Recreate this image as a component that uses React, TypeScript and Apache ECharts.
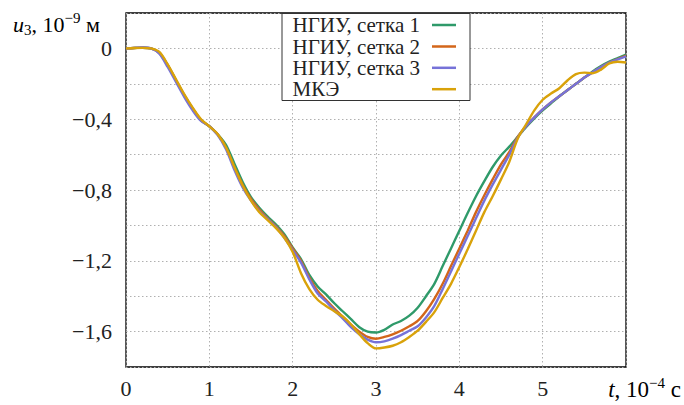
import React, { useEffect, useRef } from "react";
import * as echarts from "echarts";

const tValues = [
  0.0, 0.1, 0.2, 0.3, 0.4, 0.5, 0.6, 0.7, 0.8, 0.9,
  1.0, 1.1, 1.2, 1.3, 1.4, 1.5, 1.6, 1.7, 1.8, 1.9,
  2.0, 2.1, 2.2, 2.3, 2.4, 2.5, 2.6, 2.7, 2.8, 2.9,
  3.0, 3.1, 3.2, 3.3, 3.4, 3.5, 3.6, 3.7, 3.8, 3.9,
  4.0, 4.1, 4.2, 4.3, 4.4, 4.5, 4.6, 4.7, 4.8, 4.9,
  5.0, 5.1, 5.2, 5.3, 5.4, 5.5, 5.6, 5.7, 5.8, 5.9,
  6.0,
];

const grid1 = [
  0, 0.002, 0.004, 0.0, -0.025, -0.095, -0.18, -0.265, -0.34, -0.405,
  -0.44, -0.485, -0.545, -0.65, -0.755, -0.84, -0.9, -0.95, -0.995, -1.05,
  -1.125, -1.19, -1.28, -1.345, -1.39, -1.44, -1.485, -1.53, -1.575, -1.6,
  -1.605, -1.59, -1.56, -1.54, -1.51, -1.465, -1.4, -1.33, -1.23, -1.13,
  -1.03, -0.93, -0.835, -0.75, -0.67, -0.605, -0.555, -0.5, -0.445, -0.395,
  -0.35, -0.31, -0.27, -0.235, -0.2, -0.165, -0.13, -0.1, -0.075, -0.055,
  -0.035,
];

const grid2 = [
  0, 0.002, 0.004, 0.0, -0.025, -0.095, -0.18, -0.265, -0.34, -0.405,
  -0.44, -0.485, -0.56, -0.67, -0.77, -0.85, -0.91, -0.96, -1.005, -1.06,
  -1.13, -1.2, -1.295, -1.37, -1.42, -1.47, -1.515, -1.56, -1.6, -1.63,
  -1.64, -1.63, -1.615, -1.595, -1.57, -1.54, -1.485, -1.415, -1.33, -1.23,
  -1.13, -1.03, -0.925, -0.83, -0.74, -0.655, -0.585, -0.5, -0.44, -0.39,
  -0.345, -0.305, -0.27, -0.235, -0.2, -0.165, -0.135, -0.105, -0.08, -0.06,
  -0.04,
];

const grid3 = [
  0, 0.003, 0.005, 0.0, -0.03, -0.105, -0.19, -0.275, -0.35, -0.41,
  -0.44, -0.49, -0.57, -0.685, -0.785, -0.86, -0.92, -0.965, -1.01, -1.07,
  -1.14, -1.21, -1.305, -1.385, -1.43, -1.48, -1.525, -1.575, -1.615, -1.645,
  -1.66, -1.655, -1.64, -1.62, -1.595, -1.57, -1.52, -1.455, -1.36, -1.26,
  -1.16, -1.06, -0.96, -0.86, -0.77, -0.685, -0.6, -0.505, -0.44, -0.39,
  -0.345, -0.305, -0.27, -0.235, -0.2, -0.165, -0.135, -0.105, -0.08, -0.062,
  -0.045,
];

const fem = [
  0, 0.002, 0.003, 0.0, -0.02, -0.09, -0.175, -0.26, -0.335, -0.4,
  -0.44, -0.485, -0.56, -0.67, -0.775, -0.86, -0.925, -0.97, -1.015, -1.07,
  -1.15, -1.27, -1.36, -1.42, -1.455, -1.485, -1.515, -1.56, -1.615, -1.665,
  -1.695, -1.69, -1.68, -1.66, -1.63, -1.595, -1.545, -1.49, -1.41, -1.33,
  -1.235, -1.135, -1.03, -0.925, -0.835, -0.74, -0.64, -0.51, -0.43, -0.35,
  -0.29, -0.255, -0.225, -0.18, -0.145, -0.137, -0.14, -0.12, -0.085, -0.075,
  -0.08,
];

const seriesNames = ["НГИУ, сетка 1", "НГИУ, сетка 2", "НГИУ, сетка 3", "МКЭ"];
const seriesData = [grid1, grid2, grid3, fem];
const seriesColors = ["#2f9a6a", "#d3661a", "#7672d8", "#d9a20a"];

const xTicks = [0, 1, 2, 3, 4, 5, 6];
const yLabelTicks = [0, -0.4, -0.8, -1.2, -1.6];

const FONT = "Liberation Serif";

function fmtY(v: number): string {
  if (Math.abs(v) < 1e-9) return "0";
  const s = Math.abs(v).toFixed(1).replace(".", ",");
  return (v < 0 ? "\u2212" : "") + s;
}

export default function App() {
  const ref = useRef<HTMLDivElement>(null);

  useEffect(() => {
    document.body.style.margin = "0";
    if (!ref.current) return;
    const chart = echarts.init(ref.current, undefined, { renderer: "svg" });

    const rowYs = [25, 46.5, 67.8, 89.2];

    const legendElems: any[] = [
      {
        type: "rect",
        shape: { x: 282, y: 13.5, width: 188, height: 87 },
        style: { fill: "#fff", stroke: "#333", lineWidth: 1 },
        z: 100,
      },
    ];
    seriesNames.forEach((name, i) => {
      legendElems.push({
        type: "text",
        x: 292.5,
        y: rowYs[i],
        style: {
          text: name,
          fontFamily: FONT,
          fontSize: 21,
          lineHeight: 19,
          fill: "#222",
          verticalAlign: "middle",
          align: "left",
        },
        z: 101,
      });
      legendElems.push({
        type: "line",
        shape: { x1: 432, y1: rowYs[i], x2: 456, y2: rowYs[i] },
        style: { stroke: seriesColors[i], lineWidth: 2.5 },
        z: 101,
      });
    });

    const baseRich = (size: number, italic = false) => ({
      fontFamily: FONT,
      fontSize: size,
      fontStyle: italic ? "italic" : "normal",
      color: "#222",
      lineHeight: 30,
    });

    chart.setOption({
      animation: false,
      backgroundColor: "#fff",
      textStyle: { fontFamily: FONT },
      grid: {
        left: 126,
        right: 58,
        top: 13,
        bottom: 38,
        show: true,
        borderColor: "#000",
        borderWidth: 1.3,
        backgroundColor: "transparent",
      },
      xAxis: {
        type: "value",
        min: 0,
        max: 6,
        interval: 1,
        axisLine: { show: false },
        axisTick: { show: false },
        axisLabel: {
          fontFamily: FONT,
          fontSize: 22,
          color: "#222",
          margin: 10,
          formatter: (v: number) =>
            xTicks.indexOf(v) >= 0 && v < 6 ? String(v) : "",
        },
        splitLine: {
          show: true,
          lineStyle: { color: "#b0b0b0", type: [1.5, 2.5], width: 1 },
        },
      },
      yAxis: {
        type: "value",
        min: -1.8,
        max: 0.2,
        interval: 0.2,
        axisLine: { show: false },
        axisTick: { show: false },
        axisLabel: {
          fontFamily: FONT,
          fontSize: 22,
          color: "#222",
          margin: 14,
          formatter: (v: number) => {
            const hit = yLabelTicks.find((t) => Math.abs(t - v) < 1e-6);
            return hit === undefined ? "" : fmtY(hit);
          },
        },
        splitLine: {
          show: true,
          lineStyle: { color: "#b0b0b0", type: [1.5, 2.5], width: 1 },
        },
      },
      series: seriesNames.map((name, i) => ({
        name,
        type: "line",
        data: tValues.map((t, j) => [t, seriesData[i][j]]),
        showSymbol: false,
        smooth: 0.3,
        lineStyle: { color: seriesColors[i], width: 2.4 },
        itemStyle: { color: seriesColors[i] },
        z: 2 + i,
      })),
      graphic: [
        ...legendElems,
        {
          type: "text",
          x: 13,
          y: 24,
          style: {
            text: "{i|u}{sub|3}{n|, 10}{sup|\u22129}{n| м}",
            verticalAlign: "middle",
            fontFamily: FONT,
            rich: {
              i: { ...baseRich(22, true), verticalAlign: "middle" },
              n: { ...baseRich(22), verticalAlign: "middle" },
              sub: { ...baseRich(15), verticalAlign: "bottom", padding: [0, 0, 2, 0] },
              sup: { ...baseRich(15), verticalAlign: "top", padding: [1, 0, 0, 0] },
            },
          },
        },
        {
          type: "text",
          x: 681,
          y: 389,
          style: {
            text: "{i|t}{n|, 10}{sup|\u22124}{n| c}",
            align: "right",
            verticalAlign: "middle",
            fontFamily: FONT,
            rich: {
              i: { ...baseRich(23, true), verticalAlign: "middle" },
              n: { ...baseRich(23), verticalAlign: "middle" },
              sup: { ...baseRich(15), verticalAlign: "top", padding: [1, 0, 0, 0] },
            },
          },
        },
      ],
    });

    return () => {
      chart.dispose();
    };
  }, []);

  return <div ref={ref} style={{ width: 684, height: 405 }} />;
}
